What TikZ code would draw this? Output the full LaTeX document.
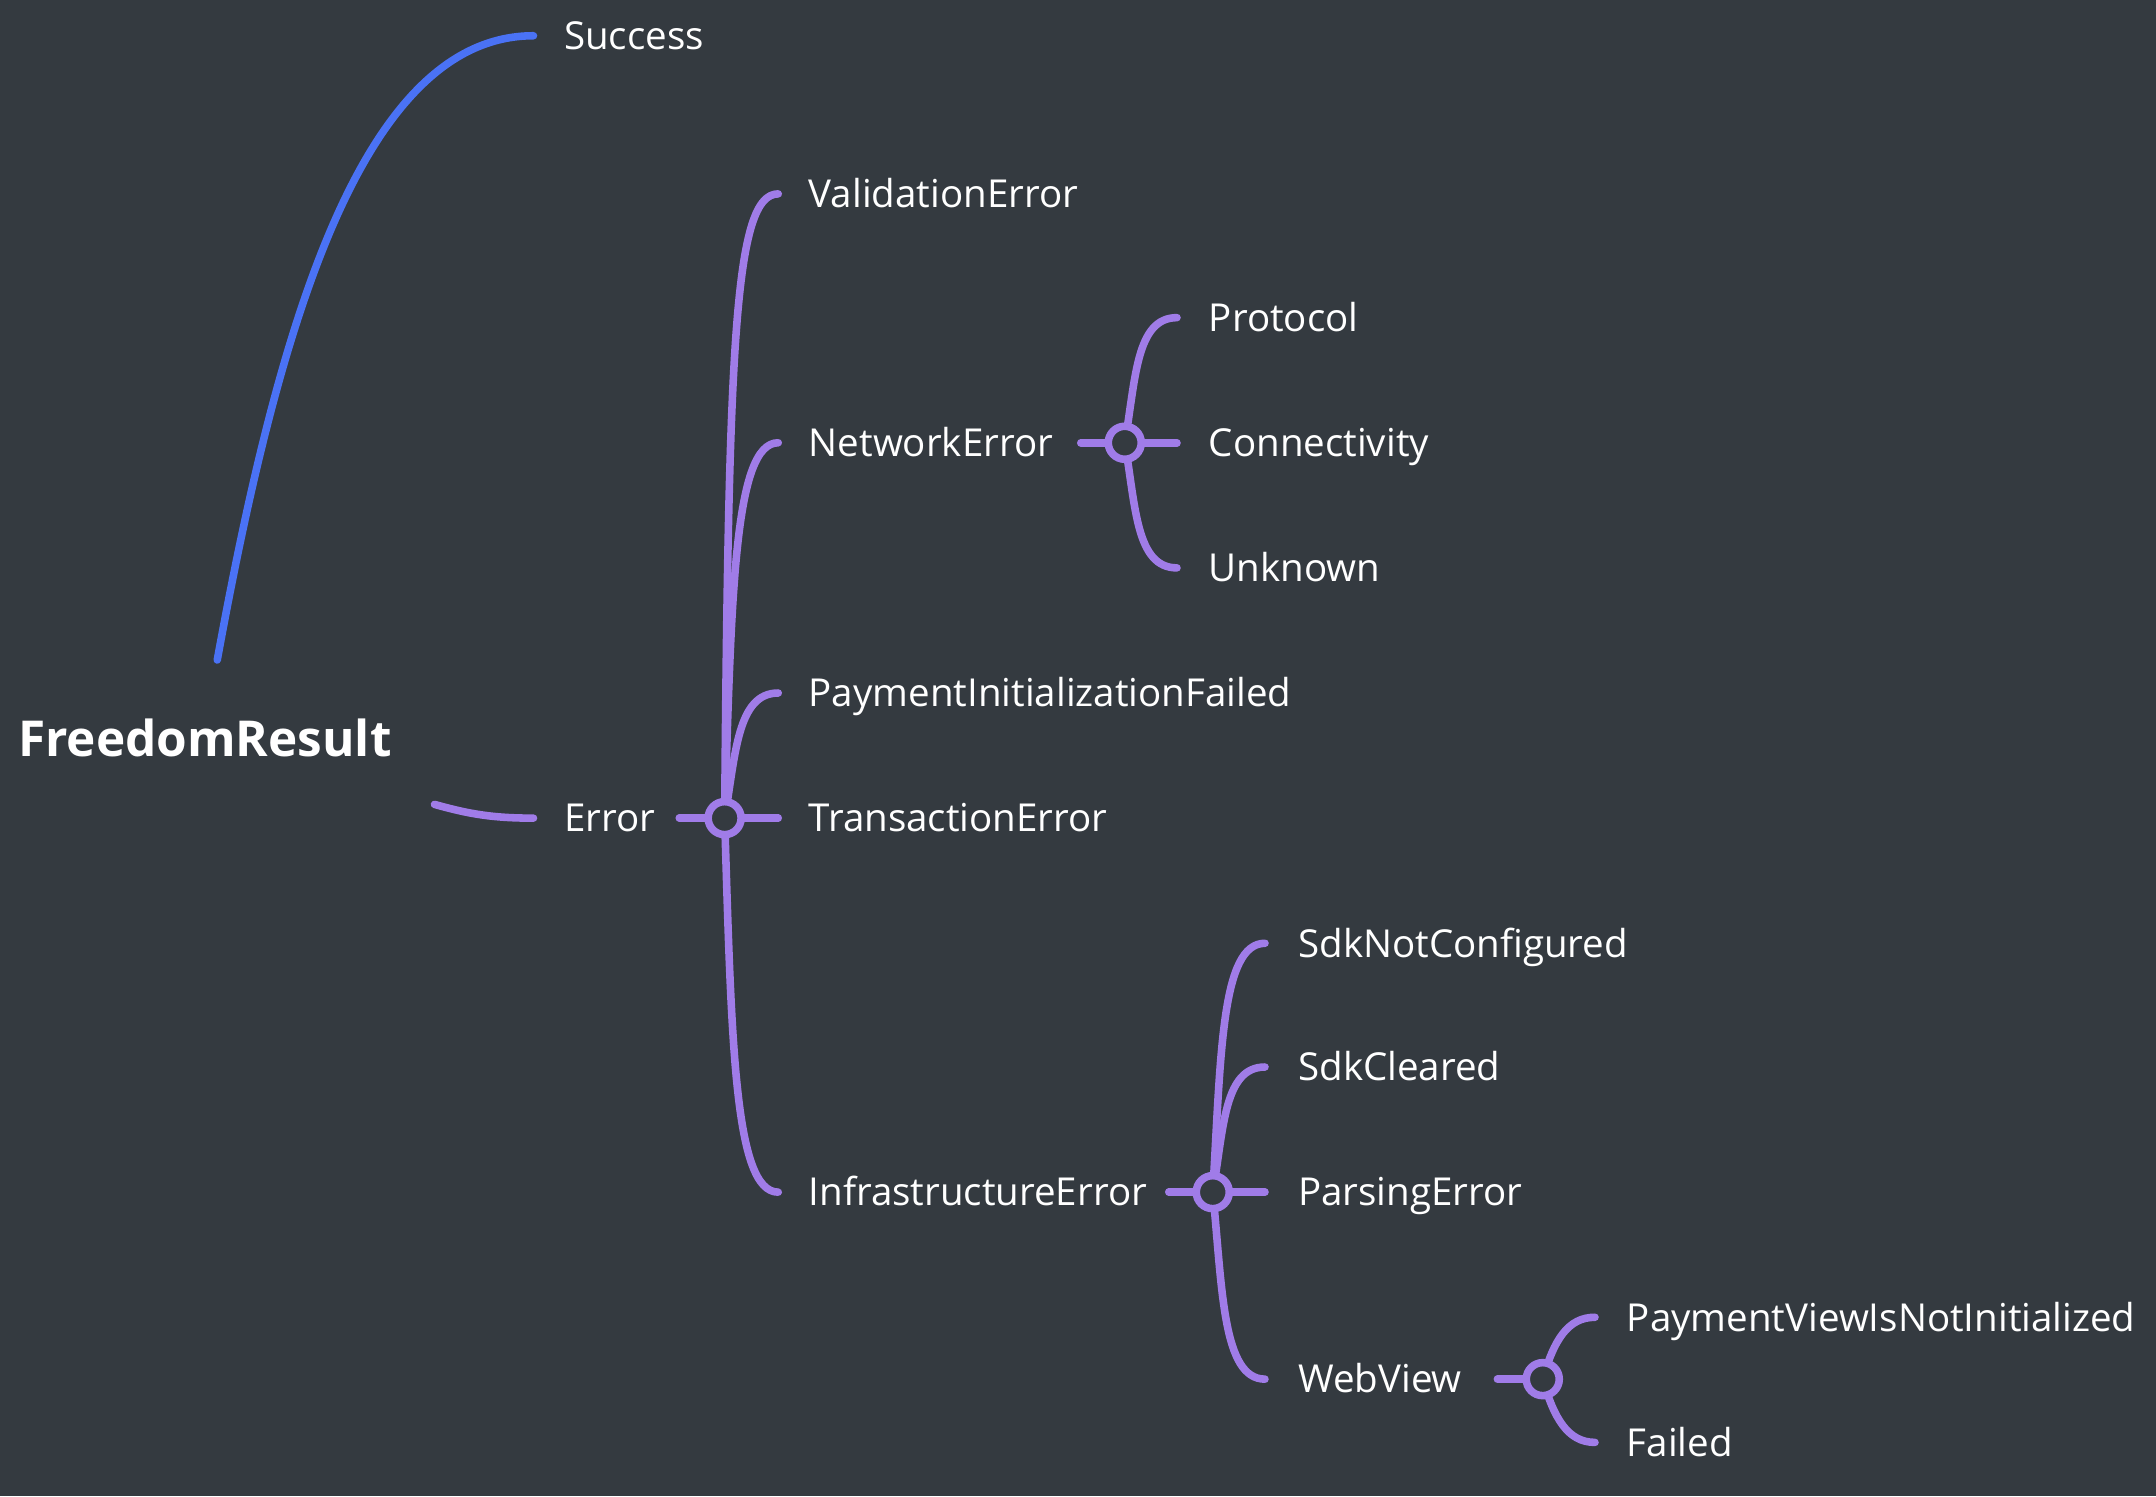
\documentclass[tikz,border=0pt]{standalone}
\usepackage{fontspec}
\setmainfont{Open Sans}
\definecolor{bg}{HTML}{343A40}
\definecolor{bluel}{HTML}{4A72F5}
\definecolor{purp}{HTML}{A07CE8}
\begin{document}
\begin{tikzpicture}[x=1pt,y=-1pt,
  edge/.style={line width=5.5pt, line cap=round, draw=purp},
  blueedge/.style={line width=5.5pt, line cap=round, draw=bluel},
  hub/.style={circle, draw=purp, line width=5.5pt, fill=bg, minimum size=24pt, inner sep=0pt},
  lbl/.style={anchor=west, inner sep=0pt, text=white, font=\fontsize{28}{33}\selectfont, text height=20pt, text depth=0pt},
  rootlbl/.style={anchor=west, inner sep=0pt, text=white, font=\bfseries\fontsize{36}{42}\selectfont, text height=25.7pt, text depth=0pt},
  ]
\fill[bg] (0,0) rectangle (1568,1088);
\useasboundingbox (0,0) rectangle (1568,1088);

% coordinates
\coordinate (r1) at (158,480);
\coordinate (r2) at (316,585);
\coordinate (eSucc) at (388,26);
\coordinate (eErr) at (388,595);

\coordinate (c1) at (527,595);
\coordinate (l1) at (494,595);
\coordinate (eVal) at (566,141);
\coordinate (eNet) at (566,322);
\coordinate (ePIF) at (566,504);
\coordinate (eTra) at (566,595);
\coordinate (eInf) at (566,867);

\coordinate (c2) at (818,322);
\coordinate (l2) at (786,322);
\coordinate (ePro) at (856,231);
\coordinate (eCon) at (856,322);
\coordinate (eUnk) at (856,413);

\coordinate (c3) at (882,867);
\coordinate (l3) at (850,867);
\coordinate (eSNC) at (920,686);
\coordinate (eSCl) at (920,776);
\coordinate (ePar) at (920,867);
\coordinate (eWeb) at (920,1003);

\coordinate (c4) at (1122,1003);
\coordinate (l4) at (1089,1003);
\coordinate (ePV) at (1160,958);
\coordinate (eFai) at (1160,1049);

% root edges
\draw[blueedge] (r1) .. controls +(42,-230) and +(-128,0) .. (eSucc);
\draw[edge] (r2) .. controls +(25,7) and +(-30,0) .. (eErr);

% Error branches
\draw[edge] (c1) .. controls +(3,-345) and +(-32,0) .. (eVal);
\draw[edge] (c1) .. controls +(5,-164) and +(-32,0) .. (eNet);
\draw[edge] (c1) .. controls +(8,-46) and +(-30,0) .. (ePIF);
\draw[edge] (c1) .. controls +(5,163) and +(-32,0) .. (eInf);
\draw[edge] (l1) -- (eTra);

% Network branches
\draw[edge] (c2) .. controls +(8,-46) and +(-30,0) .. (ePro);
\draw[edge] (c2) .. controls +(8,46) and +(-30,0) .. (eUnk);
\draw[edge] (l2) -- (eCon);

% Infrastructure branches
\draw[edge] (c3) .. controls +(6,-100) and +(-32,0) .. (eSNC);
\draw[edge] (c3) .. controls +(8,-46) and +(-30,0) .. (eSCl);
\draw[edge] (c3) .. controls +(7,70) and +(-31,0) .. (eWeb);
\draw[edge] (l3) -- (ePar);

% WebView branches
\draw[edge] (c4) .. controls +(8,-28) and +(-20,0) .. (ePV);
\draw[edge] (c4) .. controls +(8,28) and +(-20,0) .. (eFai);
\draw[edge] (l4) -- (c4);

% hubs
\node[hub] (h1) at (c1) {};
\node[hub] (h2) at (c2) {};
\node[hub] (h3) at (c3) {};
\node[hub] (h4) at (c4) {};

% labels
\node[rootlbl] (root) at (13,537) {FreedomResult};
\node[lbl] (succ) at (410,26) {Success};
\node[lbl] (err) at (410,595) {Error};
\node[lbl] (val) at (588,141) {ValidationError};
\node[lbl] (net) at (588,322) {NetworkError};
\node[lbl] (pif) at (588,504) {PaymentInitializationFailed};
\node[lbl] (tra) at (588,595) {TransactionError};
\node[lbl] (inf) at (588,867) {InfrastructureError};
\node[lbl] (pro) at (879,231) {Protocol};
\node[lbl] (con) at (879,322) {Connectivity};
\node[lbl] (unk) at (879,413) {Unknown};
\node[lbl] (snc) at (944,686) {SdkNotConfigured};
\node[lbl] (scl) at (944,776) {SdkCleared};
\node[lbl] (par) at (944,867) {ParsingError};
\node[lbl] (web) at (944,1003) {WebView};
\node[lbl] (pv) at (1183,958) {PaymentViewIsNotInitialized};
\node[lbl] (fai) at (1183,1049) {Failed};
\end{tikzpicture}
\end{document}
